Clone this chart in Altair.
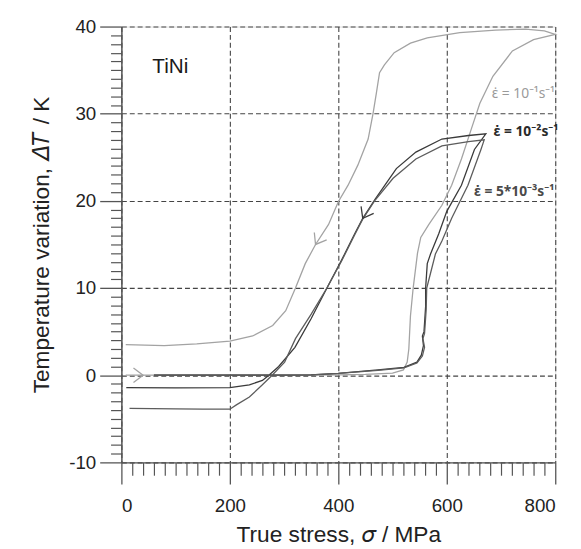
import altair as alt
import pandas as pd

# ---- data ----
# strain rate 10^-1 s^-1 (light gray): loading then unloading
s1_x = [8, 100, 200, 300, 400, 450, 500, 520, 527, 530, 533, 538, 542, 546, 552, 567, 591, 609, 627, 645, 661, 685, 721, 760, 800,
        780, 745, 690, 624, 564, 533, 503, 485, 476, 470, 464, 455, 436, 418, 400, 382, 358, 339, 321, 303, 279, 242, 200, 139, 79, 8]
s1_y = [0, 0, 0, 0, 0.05, 0.1, 0.25, 0.6, 1.5, 3, 6.8, 10, 12, 14, 15.8, 17.3, 19.5, 21.8, 24.8, 28.2, 31.2, 34.3, 37.2, 38.5, 39.1,
        39.5, 39.7, 39.6, 39.3, 38.7, 38.1, 37, 35.6, 34.7, 32.3, 30, 27.1, 24.1, 21.8, 19.9, 17.3, 15, 12.8, 10, 7.4, 5.7, 4.5, 3.9, 3.6, 3.4, 3.5]

# strain rate 10^-2 s^-1 (dark)
s2_x = [60, 100, 200, 300, 350, 400, 473, 521, 545, 553, 557, 555, 558, 561, 561, 564, 570, 585, 600, 627, 651, 672,
        640, 591, 543, 507, 468, 445, 430, 406, 379, 350, 320, 290, 272, 260, 236, 200, 100, 9]
s2_y = [0, 0, 0, 0, 0.05, 0.2, 0.6, 0.9, 1.5, 2.3, 3.4, 4.5, 5.0, 7.9, 10, 12.8, 13.9, 16.2, 18.8, 21.8, 25.9, 27.7,
        27.5, 27.1, 25.6, 23.7, 20.2, 18, 16.2, 13.2, 10, 6.5, 3.2, 1.0, 0, -0.6, -1.1, -1.43, -1.45, -1.43]

# strain rate 5*10^-3 s^-1 (mid-dark)
s3_x = [60, 100, 200, 300, 350, 400, 473, 521, 545, 555, 559, 556, 559, 562, 563, 570, 579, 591, 609, 639, 663, 669,
        640, 591, 543, 501, 468, 445, 430, 406, 379, 350, 321, 301, 278, 260, 236, 212, 200, 150, 100, 15]
s3_y = [0, 0, 0, 0, 0.05, 0.2, 0.55, 0.85, 1.4, 2.2, 3.2, 4.2, 4.8, 7.5, 10, 11.7, 13.9, 15.4, 18, 21.8, 25.9, 27.0,
        26.8, 26.3, 24.8, 22.6, 20.1, 17.9, 16.1, 13.1, 10, 7, 4.2, 1.5, 0, -1.1, -2.5, -3.4, -3.9, -3.9, -3.85, -3.8]

series_names = ["10^-1", "10^-2", "5*10^-3"]
series_colors = ["#a3a3a3", "#3a3a3a", "#5c5c5c"]

# direction arrows on the curves
arrow_x = [40, 358, 445]
arrow_y = [0, 15, 18]
arrow_angle = [0, 121, 119]
arrow_series = ["10^-1", "10^-1", "10^-2"]

# annotations
label_text = ["TiNi", "ε̇ = 10⁻¹s⁻¹", "ε̇ = 10⁻²s⁻¹", "ε̇ = 5*10⁻³s⁻¹"]
label_x = [57, 683, 686, 650]
label_y = [35.4, 32.2, 27.9, 21.0]
label_color = ["#1a1a1a", "#9a9a9a", "#2a2a2a", "#4a4a4a"]
label_size = [21, 14, 14, 14]
label_weight = ["normal", "normal", "bold", "bold"]
label_font = ["Liberation Sans", "Noto Sans", "Noto Sans", "Noto Sans"]

x_major = [0, 200, 400, 600, 800]
y_major = [-10, 0, 10, 20, 30, 40]
x_minor = [v for v in range(0, 801, 20) if v % 200]
y_minor = [v for v in range(-10, 41) if v % 10]

rows = []
for name, xs_, ys_ in zip(series_names, [s1_x, s2_x, s3_x], [s1_y, s2_y, s3_y]):
    for i, (a, b) in enumerate(zip(xs_, ys_)):
        rows.append({"series": name, "i": i, "stress": a, "dT": b})
df = pd.DataFrame(rows)

arrows = pd.DataFrame({"stress": arrow_x, "dT": arrow_y, "angle": arrow_angle, "series": arrow_series})
labels = pd.DataFrame({"text": label_text, "stress": label_x, "dT": label_y, "color": label_color,
                       "size": label_size, "weight": label_weight, "font": label_font})

FONT = "Liberation Sans"
AXC = "#555555"

xs = alt.Scale(domain=[0, 800], nice=False, zero=False)
ys = alt.Scale(domain=[-10, 40], nice=False, zero=False)
color = alt.Color("series:N", scale=alt.Scale(domain=series_names, range=series_colors), legend=None)

x_axis_major = alt.Axis(values=x_major, orient="bottom", tickSize=22, labelPadding=13, labelFontSize=19,
                        labelFont=FONT, labelColor="#222", labelExpr="'' + datum.value",
                        title="True stress, 𝜎 / MPa", titleFont=FONT,
                        titleFontSize=23, titleFontWeight="normal", titleColor="#222",
                        titleBaseline="alphabetic", titleY=80, titleX=220,
                        grid=True, gridDash=[5, 3], gridColor="#444", gridWidth=1.1, gridOpacity=1,
                        domainColor=AXC, domainWidth=1.5, tickColor=AXC, tickWidth=1.3)
y_axis_major = alt.Axis(values=y_major, orient="left", tickSize=22, labelPadding=4, labelFontSize=19,
                        labelFont=FONT, labelColor="#222", labelExpr="'' + datum.value",
                        title="Temperature variation, 𝛥𝑇 / K", titleFont=FONT,
                        titleFontSize=23, titleFontWeight="normal", titleColor="#222",
                        titleBaseline="alphabetic", titleX=-74, titleY=221, titleAngle=270,
                        grid=True, gridDash=[5, 3], gridColor="#444", gridWidth=1.1, gridOpacity=1,
                        domainColor=AXC, domainWidth=1.5, tickColor=AXC, tickWidth=1.3)
x_axis_minor = alt.Axis(values=x_minor, orient="bottom", tickSize=13, labels=False, domain=False, grid=False,
                        title=None, tickColor=AXC, tickWidth=1.2)
y_axis_minor = alt.Axis(values=y_minor, orient="left", tickSize=11, labels=False, domain=False, grid=False,
                        title=None, tickColor=AXC, tickWidth=1.2)

lines = alt.Chart(df).mark_line(strokeWidth=1.3).encode(
    x=alt.X("stress:Q", scale=xs, axis=x_axis_major),
    y=alt.Y("dT:Q", scale=ys, axis=y_axis_major),
    color=color,
    detail="series:N",
    order="i:Q",
)

minor = alt.Chart(df).mark_point(opacity=0).encode(
    x=alt.X("stress:Q", scale=xs, axis=x_axis_minor),
    y=alt.Y("dT:Q", scale=ys, axis=y_axis_minor),
)

arrow_marks = alt.Chart(arrows).mark_point(shape="M-1,-0.75L0,0L-1,0.75", size=380, filled=False,
                                           strokeWidth=1.3, opacity=1).encode(
    x=alt.X("stress:Q", scale=xs, axis=None),
    y=alt.Y("dT:Q", scale=ys, axis=None),
    angle=alt.Angle("angle:Q", scale=None),
    color=color,
)


def text_layer(weight, font):
    return alt.Chart(labels).transform_filter(
        (alt.datum.weight == weight) & (alt.datum.font == font)
    ).mark_text(align="left", baseline="middle", font=font, fontWeight=weight).encode(
        x=alt.X("stress:Q", scale=xs, axis=None),
        y=alt.Y("dT:Q", scale=ys, axis=None),
        text="text:N",
        color=alt.Color("color:N", scale=None),
        size=alt.Size("size:Q", scale=None),
    )


chart = alt.layer(
    lines, minor, arrow_marks,
    text_layer("normal", "Liberation Sans"),
    text_layer("normal", "Noto Sans"),
    text_layer("bold", "Noto Sans"),
).resolve_axis(
    x="independent", y="independent"
).properties(
    width=440, height=442,
    autosize=alt.AutoSizeParams(type="none"),
    padding={"left": 115, "top": 15, "right": 18, "bottom": 82},
).configure_view(stroke=None).configure(background="white")

chart.save("out.html", embed_options={"renderer": "svg", "actions": False})
